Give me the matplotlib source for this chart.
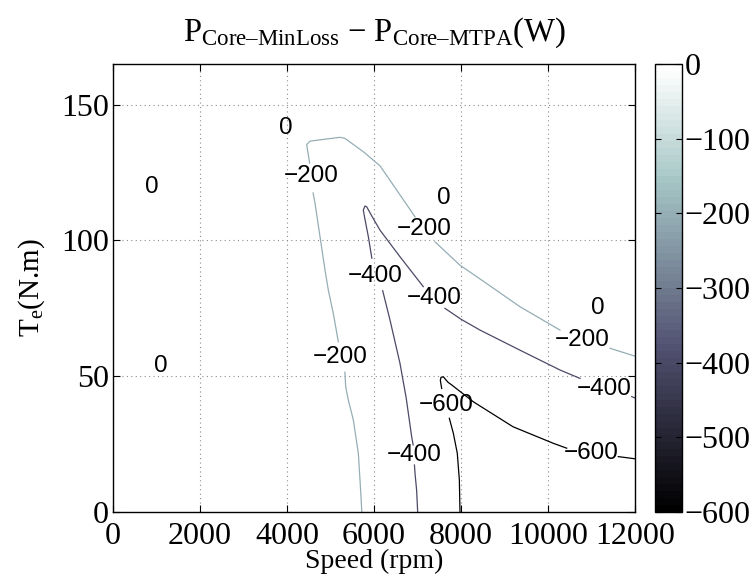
import numpy as np
import matplotlib
matplotlib.use("Agg")
import matplotlib.pyplot as plt
from matplotlib import cm, colors

plt.rcParams['font.family'] = 'Liberation Serif'
plt.rcParams['mathtext.fontset'] = 'custom'
plt.rcParams['mathtext.rm'] = 'Liberation Serif'
plt.rcParams['mathtext.it'] = 'Liberation Serif:italic'

# contour lines, one list of broken segments per level
# (speed rpm, torque N.m); gaps are where MATLAB put the inline labels
c200 = [
    [(5720, 0), (5700, 6), (5678, 11.8), (5640, 21.6), (5525, 33.9), (5410, 41.2), (5350, 46), (5330, 51.5)],
    [(5180, 62.7), (5064, 73.2), (4950, 81.7), (4874, 89.1), (4759, 101.4), (4644, 113.7), (4600, 117.5)],
    [(4520, 128.5), (4470, 133.5), (4452, 135.3), (4529, 136.6), (5218, 138), (5333, 137.6),
     (5754, 132.7), (6138, 127.5), (6521, 118.6), (6943, 108.7)],
    [(7402, 99.5), (7977, 90.9), (8513, 85), (9356, 75.6), (10276, 67.0)],
    [(11425, 60.3), (12000, 57.4)],
]
c400 = [
    [(7004, 0), (6980, 8), (6943, 14.2), (6930, 17.3)],
    [(6900, 24.7), (6866, 27.7), (6740, 42), (6598, 54.7), (6368, 70.7), (6200, 81.5)],
    [(5950, 93.5), (5870, 101.4), (5790, 108), (5754, 111.2), (5793, 112.7), (5832, 112.4),
     (5950, 109), (6138, 103.8), (6598, 94), (7133, 83)],
    [(7632, 75), (8000, 71), (8437, 67), (9356, 59.6), (10276, 52.3), (10736, 49.2)],
    [(11924, 42.5), (12000, 42)],
]
c600 = [
    [(7977, 0), (7962, 11.8), (7915, 21.6), (7824, 29), (7732, 34.5)],
    [(7556, 45.5), (7525, 48.5), (7540, 49.6), (7594, 49.8), (7700, 47.8), (7786, 46.8),
     (8283, 40.6), (9195, 31.4), (10122, 25.3), (10430, 23.5)],
    [(11616, 20.4), (12000, 19.6)],
]
levels = [-200, -400, -600]
lines = [c200, c400, c600]

# inline labels (level, speed, torque)
labels = [
    (0, 889, 119.8), (0, 3962, 141.6), (0, 1096, 53.8), (0, 7602, 115.5), (0, 11142, 75.0),
    (-200, 5230, 57.1), (-200, 4547, 123.7), (-200, 7161, 104.2), (-200, 10793, 63.3),
    (-400, 6924, 21.0), (-400, 6023, 86.9), (-400, 7384, 79.0), (-400, 11292, 45.2),
    (-600, 7651, 39.4), (-600, 10984, 21.9),
]

cmap = colors.ListedColormap(cm.bone(np.linspace(0, 1, 64)))
norm = colors.Normalize(vmin=-600, vmax=0)

fig = plt.figure(figsize=(7.55, 5.82), dpi=100)
ax = fig.add_axes([113/755, 70/582, 522/755, 448/582])

for lev, segs in zip(levels, lines):
    for s in segs:
        s = np.array(s)
        ax.plot(s[:, 0], s[:, 1], color=cmap(norm(lev)), lw=0.9)

for lev, x, y in labels:
    ax.text(x, y, '\u2212%d' % -lev if lev else '0', ha='center', va='center',
            family='Liberation Sans', fontsize=17.5)

ax.set_xlim(0, 12000)
ax.set_ylim(0, 165)
ax.set_xticks(range(0, 12001, 2000))
ax.set_yticks([0, 50, 100, 150])
ax.grid(True, color='0.55', linestyle=(0, (1, 3)), linewidth=0.8)
ax.tick_params(direction='in', top=True, right=True, length=5, labelsize=23)
ax.tick_params(axis='x', pad=7)
ax.tick_params(axis='y', pad=3)
for sp in ax.spines.values():
    sp.set_linewidth(1.0)
ax.set_xlabel('Speed (rpm)', fontsize=20, labelpad=-1)
ax.set_ylabel(r'$\mathrm{T_e}$(N.m)', fontsize=21, labelpad=10)
ax.set_title('$\\mathrm{P_{Core\u2013MinLoss}}$ $-$ $\\mathrm{P_{Core\u2013MTPA}}$(W)',
             fontsize=23.5, pad=17)

cax = fig.add_axes([655/755, 70/582, 27/755, 448/582])
sm = cm.ScalarMappable(norm=norm, cmap=cmap)
cb = fig.colorbar(sm, cax=cax, ticks=[0, -100, -200, -300, -400, -500, -600])
cb.ax.tick_params(direction='in', length=4, labelsize=23, pad=2, left=True)
cb.ax.set_yticklabels(['0'] + ['\u2212%d' % v for v in range(100, 601, 100)])
cb.outline.set_linewidth(1.0)

fig.savefig('out.png', dpi=100)
